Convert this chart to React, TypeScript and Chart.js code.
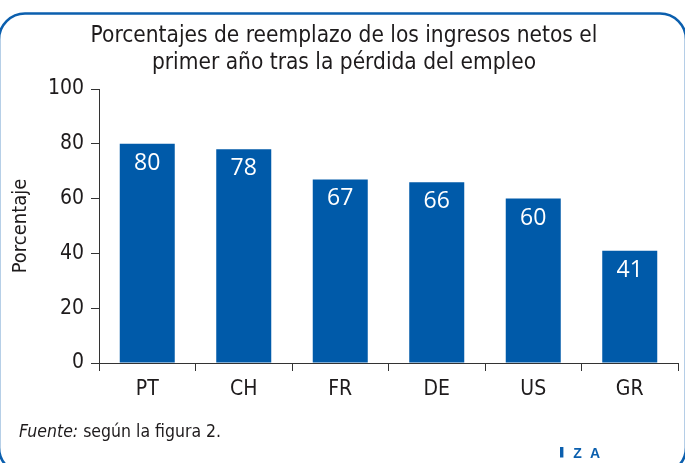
import React, { useEffect, useRef } from "react";
import { Chart, registerables } from "chart.js";

Chart.register(...registerables);

const categories = ["PT", "CH", "FR", "DE", "US", "GR"];
const values = [80, 78, 67, 66, 60, 41];
const yTicks = [0, 20, 40, 60, 80, 100];
const titleLines = [
  "Porcentajes de reemplazo de los ingresos netos el",
  "primer año tras la pérdida del empleo",
];
const yTitle = "Porcentaje";
const sourceLabel = "Fuente:";
const sourceText = " según la figura 2.";
const logoLetters = ["I", "Z", "A"];

const BLUE = "#005aa9";
const BORDER_BLUE = "#0b5fae";
const TEXT = "#1e1b1c";
const NARROW = "'Liberation Sans Narrow', 'DejaVu Sans Condensed', 'Arial Narrow', sans-serif";
const LABEL_FONT = "'Open Sans', 'Liberation Sans', sans-serif";

const decorPlugin = {
  id: "decor",
  beforeDraw(chart: any) {
    const ctx = chart.ctx;
    ctx.save();
    ctx.fillStyle = "#ffffff";
    ctx.fillRect(0, 0, chart.width, chart.height);
    // rounded border
    ctx.strokeStyle = BORDER_BLUE;
    ctx.lineWidth = 2.6;
    const x = -1, y = 13.5, w = 687, h = 460, r = 26;
    ctx.beginPath();
    ctx.moveTo(x + r, y);
    ctx.lineTo(x + w - r, y);
    ctx.arcTo(x + w, y, x + w, y + r, r);
    ctx.lineTo(x + w, y + h - r);
    ctx.arcTo(x + w, y + h, x + w - r, y + h, r);
    ctx.lineTo(x + r, y + h);
    ctx.arcTo(x, y + h, x, y + h - r, r);
    ctx.lineTo(x, y + r);
    ctx.arcTo(x, y, x + r, y, r);
    ctx.closePath();
    ctx.stroke();
    // title
    ctx.fillStyle = TEXT;
    ctx.font = `22.5px ${NARROW}`;
    ctx.textAlign = "center";
    ctx.textBaseline = "alphabetic";
    ctx.fillText(titleLines[0], 344, 42);
    ctx.fillText(titleLines[1], 344, 69);
    // footer
    ctx.textAlign = "left";
    ctx.font = `italic 17.5px ${NARROW}`;
    ctx.fillText(sourceLabel, 19, 437);
    const w1 = ctx.measureText(sourceLabel).width;
    ctx.font = `17.5px ${NARROW}`;
    ctx.fillText(sourceText, 19 + w1, 437);
    // logo
    ctx.fillStyle = BORDER_BLUE;
    ctx.font = `bold 14px 'Liberation Sans', sans-serif`;
    ctx.textAlign = "center";
    const lx = [561.5, 577.5, 595];
    logoLetters.forEach((l, i) => {
      if (l === "I") {
        ctx.fillRect(560, 447, 3.4, 10.5);
      } else {
        ctx.fillText(l, lx[i], 457.5);
      }
    });
    ctx.restore();
  },
  afterDatasetsDraw(chart: any) {
    const ctx = chart.ctx;
    const meta = chart.getDatasetMeta(0);
    ctx.save();
    ctx.fillStyle = "#ffffff";
    ctx.font = `23px ${LABEL_FONT}`;
    ctx.textAlign = "center";
    ctx.textBaseline = "alphabetic";
    meta.data.forEach((bar: any, i: number) => {
      ctx.fillText(String(values[i]), bar.x, bar.y + 26);
    });
    ctx.restore();
  },
};

export default function App() {
  const ref = useRef<HTMLCanvasElement | null>(null);
  useEffect(() => {
    if (!ref.current) return;
    const chart = new Chart(ref.current, {
      type: "bar",
      data: {
        labels: categories,
        datasets: [
          {
            data: values,
            backgroundColor: BLUE,
            borderWidth: 0,
            categoryPercentage: 1,
            barPercentage: 0.57,
          },
        ],
      },
      options: {
        responsive: false,
        animation: false,
        devicePixelRatio: 1,
        layout: { padding: { left: 4, right: 7, top: 89, bottom: 60 } },
        plugins: {
          legend: { display: false },
          tooltip: { enabled: false },
          title: { display: false },
        },
        scales: {
          x: {
            offset: true,
            grid: {
              offset: true,
              drawOnChartArea: false,
              drawTicks: true,
              tickLength: 8,
              color: "#333333",
            },
            border: { display: true, color: "#333333", width: 1 },
            ticks: {
              color: TEXT,
              font: { family: NARROW, size: 21 },
              padding: 6,
            },
            afterFit(scale: any) {
              scale.height = 40;
            },
          },
          y: {
            min: 0,
            max: 100,
            afterBuildTicks(scale: any) {
              scale.ticks = yTicks.map((v) => ({ value: v }));
            },
            grid: {
              drawOnChartArea: false,
              drawTicks: true,
              tickLength: 8,
              color: "#333333",
            },
            border: { display: true, color: "#333333", width: 1 },
            ticks: {
              color: TEXT,
              font: { family: NARROW, size: 21 },
              padding: 7,
            },
            title: {
              display: true,
              text: yTitle,
              color: TEXT,
              font: { family: NARROW, size: 20 },
              padding: { top: 5, bottom: 4 },
            },
            afterFit(scale: any) {
              scale.width = 95;
            },
          },
        },
      },
      plugins: [decorPlugin],
    });
    return () => chart.destroy();
  }, []);
  return (
    <div style={{ position: "absolute", left: 0, top: 0, width: 685, height: 463, overflow: "hidden" }}>
      <canvas ref={ref} width={685} height={463} style={{ display: "block", width: 685, height: 463 }} />
    </div>
  );
}
